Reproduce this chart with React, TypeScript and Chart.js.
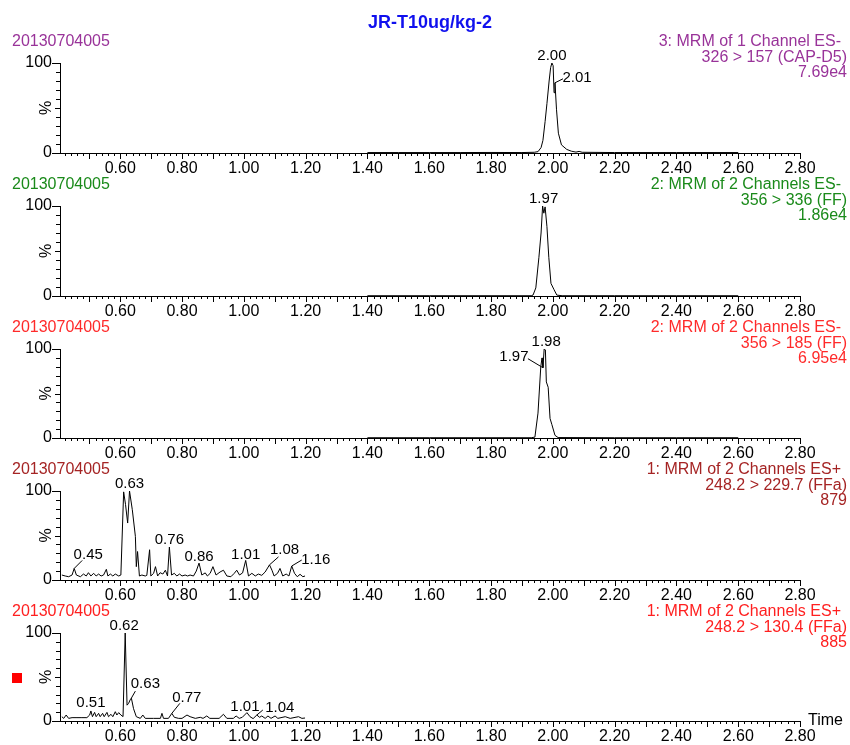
import React, { useEffect, useRef } from 'react';
import { Chart, registerables } from 'chart.js';

Chart.register(...registerables);

const FONT = '"Liberation Sans", Arial, Helvetica, sans-serif';

// ---------- axis ticks ----------
const xTickValues = [0.6, 0.8, 1.0, 1.2, 1.4, 1.6, 1.8, 2.0, 2.2, 2.4, 2.6, 2.8];
const yTickValues = [0, 100];
const X_MIN = 0.405;
const X_MAX = 2.8;

const chartTitle = 'JR-T10ug/kg-2';
const sampleId = '20130704005';

// ---------- panel 1 : CAP-D5 ----------
const p1Header = ['3: MRM of 1 Channel ES-', '326 > 157 (CAP-D5)', '7.69e4'];
const p1Times = [1.40, 1.50, 1.60, 1.70, 1.80, 1.90, 1.94, 1.952, 1.962, 1.968, 1.975, 1.981, 1.988, 1.993, 1.997, 2.001, 2.004, 2.007, 2.012, 2.018, 2.028, 2.045, 2.060, 2.075, 2.085, 2.095, 2.20, 2.40, 2.60];
const p1Values = [0.5, 0.5, 0.5, 0.5, 0.6, 0.5, 0.8, 1.5, 6, 14, 35, 55, 80, 95, 100, 97, 67, 78, 48, 22, 9, 4, 2, 1, 1.8, 0.8, 0.5, 0.5, 0.5];
const p1PeakTimes = [1.997, 2.007];
const p1PeakLabels = ['2.00', '2.01'];

// ---------- panel 2 : FF 356 > 336 ----------
const p2Header = ['2: MRM of 2 Channels ES-', '356 > 336 (FF)', '1.86e4'];
const p2Times = [1.40, 1.60, 1.80, 1.93, 1.936, 1.945, 1.955, 1.962, 1.967, 1.971, 1.975, 1.981, 1.987, 1.994, 2.004, 2.013, 2.03, 2.20, 2.40, 2.60];
const p2Values = [0.3, 0.3, 0.3, 0.3, 1, 9, 43, 70, 100, 92, 99, 77, 43, 14, 7, 1, 0.3, 0.3, 0.3, 0.3];
const p2PeakTimes = [1.967];
const p2PeakLabels = ['1.97'];

// ---------- panel 3 : FF 356 > 185 ----------
const p3Header = ['2: MRM of 2 Channels ES-', '356 > 185 (FF)', '6.95e4'];
const p3Times = [1.40, 1.60, 1.80, 1.93, 1.942, 1.952, 1.961, 1.965, 1.968, 1.972, 1.976, 1.979, 1.985, 1.991, 1.997, 2.007, 2.017, 2.20, 2.40, 2.60];
const p3Values = [0.3, 0.3, 0.3, 0.3, 1, 28, 80, 90, 79, 100, 99, 63, 57, 22, 15, 3, 0.5, 0.3, 0.3, 0.3];
const p3PeakTimes = [1.972, 1.968];
const p3PeakLabels = ['1.98', '1.97'];

// ---------- panel 4 : FFa 248.2 > 229.7 ----------
const p4Header = ['1: MRM of 2 Channels ES+', '248.2 > 229.7 (FFa)', '879'];
const p4Times = [0.411, 0.422, 0.433, 0.444, 0.451, 0.458, 0.471, 0.481, 0.490, 0.497, 0.505, 0.514, 0.522, 0.530, 0.538, 0.546, 0.555, 0.560, 0.568, 0.576, 0.584, 0.595, 0.602, 0.611, 0.617, 0.624, 0.630, 0.639, 0.649, 0.652, 0.656, 0.662, 0.670, 0.681, 0.686, 0.695, 0.699, 0.708, 0.714, 0.721, 0.729, 0.738, 0.746, 0.753, 0.759, 0.766, 0.775, 0.783, 0.792, 0.800, 0.810, 0.818, 0.826, 0.837, 0.846, 0.855, 0.864, 0.875, 0.882, 0.891, 0.900, 0.910, 0.923, 0.934, 0.945, 0.958, 0.969, 0.977, 0.986, 0.996, 1.006, 1.015, 1.026, 1.037, 1.047, 1.058, 1.069, 1.083, 1.091, 1.098, 1.109, 1.117, 1.126, 1.137, 1.146, 1.155, 1.164, 1.173, 1.182, 1.191, 1.198];
const p4Values = [5.6, 4.5, 3.7, 5.6, 13, 5.6, 3.7, 6.7, 4.5, 8.2, 4.5, 7.5, 4.5, 6.7, 4.5, 5.6, 12, 4.5, 6.7, 4.5, 6.7, 4.5, 5.6, 99, 85, 64, 100, 79, 49, 15, 32, 4.5, 5.6, 4.5, 5.2, 34, 4.5, 7.5, 15, 4.5, 8.2, 6.7, 11, 4.5, 37, 5.6, 7.5, 4.5, 6.7, 4.5, 5.6, 4.5, 5.6, 4.5, 10, 19, 5.6, 8, 4.5, 7.5, 15, 5.6, 9, 11, 4.5, 3.7, 7.5, 11, 5.6, 8, 22, 4.5, 7.5, 4.5, 6.7, 5.2, 9, 17, 11, 4.5, 7.5, 13, 4.5, 6.7, 4.5, 15.7, 7.5, 3.7, 6.4, 3.7, 4.5];
const p4PeakTimes = [0.451, 0.630, 0.759, 0.855, 1.006, 1.083, 1.155];
const p4PeakLabels = ['0.45', '0.63', '0.76', '0.86', '1.01', '1.08', '1.16'];

// ---------- panel 5 : FFa 248.2 > 130.4 ----------
const p5Header = ['1: MRM of 2 Channels ES+', '248.2 > 130.4 (FFa)', '885'];
const p5Times = [0.411, 0.417, 0.425, 0.433, 0.444, 0.460, 0.476, 0.492, 0.501, 0.505, 0.510, 0.517, 0.522, 0.530, 0.535, 0.543, 0.548, 0.557, 0.562, 0.570, 0.576, 0.584, 0.589, 0.595, 0.602, 0.609, 0.616, 0.622, 0.627, 0.632, 0.636, 0.643, 0.652, 0.665, 0.673, 0.681, 0.708, 0.730, 0.735, 0.740, 0.756, 0.767, 0.775, 0.789, 0.800, 0.816, 0.826, 0.843, 0.859, 0.868, 0.880, 0.890, 0.920, 0.934, 0.945, 0.966, 0.975, 0.985, 0.995, 1.010, 1.020, 1.030, 1.042, 1.051, 1.058, 1.069, 1.078, 1.088, 1.101, 1.110, 1.134, 1.150, 1.177, 1.188, 1.198];
const p5Values = [4.9, 3.0, 6.8, 3.0, 3.8, 3.8, 3.8, 3.8, 6.8, 11.4, 4.9, 9.8, 4.9, 8.7, 4.9, 8.7, 4.9, 9.8, 4.9, 7.6, 4.9, 10.6, 6.8, 9.5, 6.8, 5, 100, 18, 20, 24, 26, 14, 4.9, 3, 6.8, 3, 3, 3, 8.7, 3, 3, 8.7, 4.2, 3, 3, 6.8, 4.9, 3, 4.2, 3, 5.7, 3, 3, 7.6, 3, 3, 5.7, 3, 4.2, 9.5, 4.9, 2.7, 6.8, 4.2, 5.7, 3, 5.7, 3, 5.7, 3, 4.9, 3, 4.9, 3, 3.4];
const p5PeakTimes = [0.616, 0.636, 0.505, 0.767, 1.010, 1.042];
const p5PeakLabels = ['0.62', '0.63', '0.51', '0.77', '1.01', '1.04'];

// ---------- layout / style (not data) ----------
const PAD_TOP = 63;
const AXIS_H = 30;
type Off = [number, number, [number, number] | null];
const panels = [
  { times: p1Times, values: p1Values, peakTimes: p1PeakTimes, peakLabels: p1PeakLabels, header: p1Header, color: '#993399', top: 63, bottom: 153,
    offsets: [[0, -7, null], [22, -5, [8, -4]]] as Off[] },
  { times: p2Times, values: p2Values, peakTimes: p2PeakTimes, peakLabels: p2PeakLabels, header: p2Header, color: '#1a8a1a', top: 206, bottom: 296,
    offsets: [[1, -7, null]] as Off[] },
  { times: p3Times, values: p3Values, peakTimes: p3PeakTimes, peakLabels: p3PeakLabels, header: p3Header, color: '#ff2a2a', top: 349, bottom: 438,
    offsets: [[2, -7, null], [-29, -11, [-15, -9]]] as Off[] },
  { times: p4Times, values: p4Values, peakTimes: p4PeakTimes, peakLabels: p4PeakLabels, header: p4Header, color: '#a52424', top: 491, bottom: 580,
    offsets: [[14, -14, [8, -8]], [0, -7, null], [0, -7, null], [0, -6, null], [0, -6, null], [15, -15, [9, -8]], [24, -6, [10, -6]]] as Off[] },
  { times: p5Times, values: p5Values, peakTimes: p5PeakTimes, peakLabels: p5PeakLabels, header: p5Header, color: '#ff2020', top: 633, bottom: 721,
    offsets: [[-1, -7, null], [14, -14, [4, -7]], [0, -8, null], [15, -15, [8, -10]], [-2, -6, null], [23, -7, [6, -5]]] as Off[] },
];

function makeDecor(p: any, idx: number, last: boolean) {
  const canvasTop = p.top - PAD_TOP;
  return {
    id: 'decor' + idx,
    afterDraw(chart: any) {
      const ctx = chart.ctx;
      const xs = chart.scales.x;
      const ys = chart.scales.y;
      const ca = chart.chartArea;
      ctx.save();
      ctx.strokeStyle = '#000';
      ctx.lineWidth = 1;
      // x minor / mid ticks every 0.02
      for (let k = 21; k <= 140; k++) {
        const px = Math.round(xs.getPixelForValue(k / 50)) + 0.5;
        const len = k % 5 === 0 ? 6 : 3;
        ctx.beginPath();
        ctx.moveTo(px, ca.bottom);
        ctx.lineTo(px, ca.bottom + len);
        ctx.stroke();
      }
      // y minor ticks every 10
      for (let v = 10; v < 100; v += 10) {
        const py = Math.round(ys.getPixelForValue(v)) + 0.5;
        ctx.beginPath();
        ctx.moveTo(ca.left, py);
        ctx.lineTo(ca.left - (v === 50 ? 5 : 4), py);
        ctx.stroke();
      }
      // % label
      ctx.save();
      ctx.translate(47, (ca.top + ca.bottom) / 2);
      ctx.rotate(-Math.PI / 2);
      ctx.font = `16px ${FONT}`;
      ctx.fillStyle = '#000';
      ctx.textAlign = 'center';
      ctx.textBaseline = 'middle';
      ctx.fillText('%', 0, 0);
      ctx.restore();

      // headers
      ctx.font = `16px ${FONT}`;
      ctx.fillStyle = p.color;
      ctx.textBaseline = 'middle';
      ctx.textAlign = 'left';
      ctx.fillText(sampleId, 12, ca.top - 21);
      ctx.textAlign = 'right';
      ctx.fillText(p.header[0], 841, ca.top - 21);
      ctx.fillText(p.header[1], 847, ca.top - 5);
      ctx.fillText(p.header[2], 847, ca.top + 10);

      if (idx === 0) {
        ctx.font = `bold 18px ${FONT}`;
        ctx.fillStyle = '#1010ee';
        ctx.textAlign = 'center';
        ctx.fillText(chartTitle, 430, 23 - canvasTop);
      }
      if (last) {
        ctx.font = `16px ${FONT}`;
        ctx.fillStyle = '#000';
        ctx.textAlign = 'left';
        ctx.fillText('Time', 808, ca.bottom);
      }

      // peak labels
      ctx.font = `15px ${FONT}`;
      ctx.fillStyle = '#000';
      ctx.textAlign = 'center';
      ctx.textBaseline = 'middle';
      p.peakTimes.forEach((t: number, i: number) => {
        const j = p.times.indexOf(t);
        const v = p.values[j];
        const ax = xs.getPixelForValue(t);
        const ay = ys.getPixelForValue(v);
        const [dx, dy, lead] = p.offsets[i];
        if (lead) {
          ctx.beginPath();
          ctx.moveTo(ax, ay);
          ctx.lineTo(ax + lead[0], ay + lead[1]);
          ctx.stroke();
        }
        ctx.fillText(p.peakLabels[i], ax + dx, ay + dy);
      });
      ctx.restore();
    },
  };
}

function Panel({ p, idx, last }: { p: any; idx: number; last: boolean }) {
  const ref = useRef<HTMLCanvasElement | null>(null);
  const canvasTop = p.top - PAD_TOP;
  const height = PAD_TOP + (p.bottom - p.top) + AXIS_H;
  useEffect(() => {
    if (!ref.current) return;
    const chart = new Chart(ref.current, {
      type: 'line',
      data: {
        datasets: [
          {
            data: p.times.map((t: number, i: number) => ({ x: t, y: p.values[i] })),
            borderColor: '#000',
            borderWidth: 1,
            pointRadius: 0,
            tension: 0,
            fill: false,
          },
        ],
      },
      options: {
        responsive: false,
        animation: false,
        layout: { padding: { top: PAD_TOP, left: 8, right: 50, bottom: 0 } },
        plugins: { legend: { display: false }, tooltip: { enabled: false }, title: { display: false } },
        scales: {
          x: {
            type: 'linear',
            min: X_MIN,
            max: X_MAX,
            afterBuildTicks: (axis: any) => {
              axis.ticks = xTickValues.map((v) => ({ value: v }));
            },
            afterFit: (axis: any) => {
              axis.height = AXIS_H;
            },
            grid: { display: true, drawOnChartArea: false, drawTicks: false },
            border: { display: true, color: '#000', width: 1 },
            ticks: {
              font: { family: FONT, size: 16 },
              color: '#000',
              padding: 6,
              maxRotation: 0,
              autoSkip: false,
              callback: (v: any) => Number(v).toFixed(2),
            },
          },
          y: {
            min: 0,
            max: 100,
            afterBuildTicks: (axis: any) => {
              axis.ticks = yTickValues.map((v) => ({ value: v }));
            },
            afterFit: (axis: any) => {
              axis.width = 52;
            },
            grid: { display: true, drawOnChartArea: false, drawTicks: true, tickLength: 8, color: '#000' },
            border: { display: true, color: '#000', width: 1 },
            ticks: {
              font: { family: FONT, size: 16 },
              color: '#000',
              padding: 0,
              callback: (v: any) => String(v),
            },
          },
        },
      } as any,
      plugins: [makeDecor(p, idx, last)],
    });
    return () => chart.destroy();
  }, []);
  return (
    <canvas
      ref={ref}
      width={850}
      height={height}
      style={{ position: 'absolute', left: 0, top: canvasTop, width: 850, height }}
    />
  );
}

export default function App() {
  return (
    <div style={{ position: 'absolute', left: 0, top: 0, width: 850, height: 745, background: '#fff', overflow: 'hidden' }}>
      {panels.map((p, i) => (
        <Panel key={i} p={p} idx={i} last={i === panels.length - 1} />
      ))}
      <div style={{ position: 'absolute', left: 12, top: 673, width: 10, height: 10, background: '#ff0000' }} />
    </div>
  );
}
